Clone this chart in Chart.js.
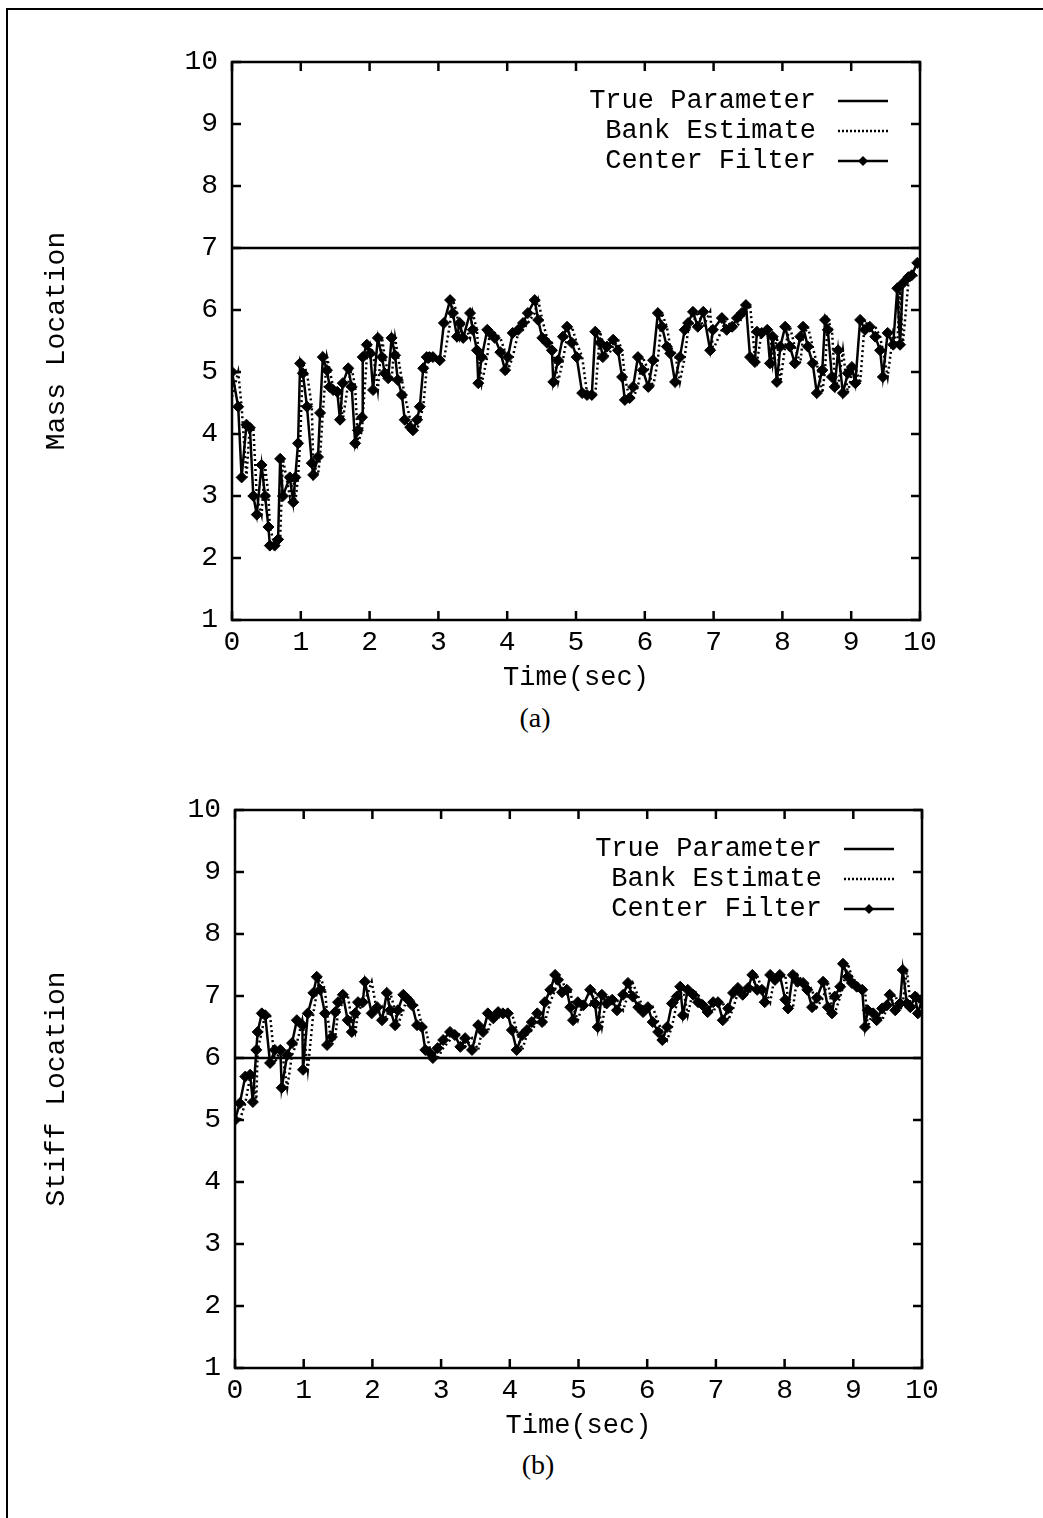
<!DOCTYPE html>
<html>
<head>
<meta charset="utf-8">
<script src="https://cdn.jsdelivr.net/npm/chart.js@4.4.1/dist/chart.umd.min.js"></script>
<style>
  body { margin: 0; background: #fff; width: 1043px; height: 1518px; position: relative; overflow: hidden; }
  .frame { position: absolute; left: 6px; top: 8px; width: 1100px; height: 1600px; border-left: 2px solid #000; border-top: 2px solid #000; }
  .wrap { position: absolute; left: 0; width: 1043px; height: 700px; }
  #wrapA { top: 0; }
  #wrapB { top: 748px; }
  .cap { position: absolute; width: 80px; text-align: center; font-family: "Liberation Serif", serif; font-size: 28px; line-height: 30px; }
</style>
</head>
<body>
<div class="frame"></div>
<div class="wrap" id="wrapA"><canvas id="chartA" width="1043" height="700"></canvas></div>
<div class="cap" style="left:495px; top:703px;">(a)</div>
<div class="wrap" id="wrapB"><canvas id="chartB" width="1043" height="700"></canvas></div>
<div class="cap" style="left:498px; top:1450px;">(b)</div>
<script>
// tick values
const xTicks = [0, 1, 2, 3, 4, 5, 6, 7, 8, 9, 10];
const yTicks = [1, 2, 3, 4, 5, 6, 7, 8, 9, 10];

// (a) mass location
const timeA = [0, 0.09, 0.14, 0.21, 0.26, 0.31, 0.36, 0.43, 0.48, 0.53,
  0.55, 0.62, 0.67, 0.70, 0.74, 0.84, 0.89, 0.92, 0.96, 0.99,
  1.03, 1.09, 1.16, 1.18, 1.25, 1.28, 1.32, 1.38, 1.42, 1.47,
  1.53, 1.57, 1.61, 1.69, 1.74, 1.79, 1.83, 1.89, 1.90, 1.96,
  2.01, 2.05, 2.12, 2.18, 2.22, 2.27, 2.32, 2.37, 2.41, 2.47,
  2.51, 2.59, 2.63, 2.69, 2.73, 2.78, 2.83, 2.87, 2.92, 3.02,
  3.08, 3.17, 3.21, 3.27, 3.31, 3.36, 3.46, 3.50, 3.56, 3.58,
  3.63, 3.71, 3.75, 3.82, 3.90, 3.97, 4.01, 4.08, 4.16, 4.23,
  4.30, 4.40, 4.45, 4.51, 4.58, 4.65, 4.67, 4.74, 4.81, 4.87,
  4.94, 5.01, 5.09, 5.16, 5.23, 5.28, 5.35, 5.39, 5.45, 5.54,
  5.61, 5.67, 5.71, 5.78, 5.83, 5.90, 5.97, 6.05, 6.12, 6.19,
  6.25, 6.32, 6.37, 6.44, 6.51, 6.58, 6.63, 6.70, 6.77, 6.85,
  6.95, 6.99, 7.12, 7.19, 7.27, 7.34, 7.41, 7.47, 7.53, 7.60,
  7.63, 7.70, 7.78, 7.82, 7.86, 7.92, 7.97, 8.04, 8.11, 8.18,
  8.26, 8.30, 8.37, 8.44, 8.50, 8.58, 8.62, 8.66, 8.72, 8.76,
  8.81, 8.88, 8.95, 9.01, 9.06, 9.13, 9.20, 9.27, 9.35, 9.42,
  9.46, 9.53, 9.61, 9.67, 9.71, 9.75, 9.83, 9.88, 9.96];
const centerA = [5.0, 4.44, 3.3, 4.15, 4.1, 3.0, 2.7, 3.5, 3.0, 2.5,
  2.2, 2.2, 2.3, 3.6, 3.0, 3.3, 2.9, 3.3, 3.85, 5.14,
  4.98, 4.44, 3.53, 3.34, 3.63, 4.34, 5.24, 5.03, 4.76, 4.71,
  4.68, 4.23, 4.82, 5.06, 4.76, 3.85, 4.06, 4.27, 5.24, 5.44,
  5.3, 4.71, 5.55, 5.24, 4.98, 4.9, 5.55, 5.27, 4.87, 4.63,
  4.23, 4.11, 4.06, 4.23, 4.44, 5.06, 5.24, 5.24, 5.24, 5.19,
  5.79, 6.16, 5.95, 5.57, 5.79, 5.55, 5.95, 5.68, 5.35, 4.82,
  5.24, 5.68, 5.63, 5.55, 5.32, 5.03, 5.24, 5.63, 5.68, 5.79,
  5.95, 6.16, 5.84, 5.55, 5.47, 5.35, 4.84, 5.19, 5.57, 5.73,
  5.47, 5.24, 4.66, 4.63, 4.63, 5.65, 5.47, 5.24, 5.41, 5.52,
  5.35, 4.92, 4.55, 4.58, 4.76, 5.24, 5.03, 4.76, 5.19, 5.95,
  5.73, 5.41, 5.3, 4.84, 5.24, 5.68, 5.79, 5.97, 5.73, 5.97,
  5.35, 5.68, 5.87, 5.68, 5.73, 5.87, 5.95, 6.08, 5.24, 5.16,
  5.65, 5.63, 5.68, 5.14, 5.57, 4.84, 5.41, 5.73, 5.41, 5.14,
  5.57, 5.73, 5.41, 5.14, 4.66, 5.03, 5.84, 5.68, 4.92, 4.76,
  5.35, 4.66, 4.98, 5.08, 4.82, 5.84, 5.68, 5.73, 5.57, 5.35,
  4.92, 5.63, 5.44, 6.35, 5.44, 6.43, 6.53, 6.56, 6.76];
const bankA = [4.6, 5.0, 4.44, 3.3, 4.15, 4.1, 3.0, 2.7, 3.5, 3.0,
  2.5, 2.2, 2.2, 2.3, 3.6, 3.0, 3.3, 2.9, 3.3, 3.85,
  5.14, 4.98, 4.44, 3.53, 3.34, 3.63, 4.34, 5.24, 5.03, 4.76,
  4.71, 4.68, 4.23, 4.82, 5.06, 4.76, 3.85, 4.06, 4.27, 5.24,
  5.44, 5.3, 4.71, 5.55, 5.24, 4.98, 4.9, 5.55, 5.27, 4.87,
  4.63, 4.23, 4.11, 4.06, 4.23, 4.44, 5.06, 5.24, 5.24, 5.24,
  5.19, 5.79, 6.16, 5.95, 5.57, 5.79, 5.55, 5.95, 5.68, 5.35,
  4.82, 5.24, 5.68, 5.63, 5.55, 5.32, 5.03, 5.24, 5.63, 5.68,
  5.79, 5.95, 6.16, 5.84, 5.55, 5.47, 5.35, 4.84, 5.19, 5.57,
  5.73, 5.47, 5.24, 4.66, 4.63, 4.63, 5.65, 5.47, 5.24, 5.41,
  5.52, 5.35, 4.92, 4.55, 4.58, 4.76, 5.24, 5.03, 4.76, 5.19,
  5.95, 5.73, 5.41, 5.3, 4.84, 5.24, 5.68, 5.79, 5.97, 5.73,
  5.97, 5.35, 5.68, 5.87, 5.68, 5.73, 5.87, 5.95, 6.08, 5.24,
  5.16, 5.65, 5.63, 5.68, 5.14, 5.57, 4.84, 5.41, 5.73, 5.41,
  5.14, 5.57, 5.73, 5.41, 5.14, 4.66, 5.03, 5.84, 5.68, 4.92,
  4.76, 5.35, 4.66, 4.98, 5.08, 4.82, 5.84, 5.68, 5.73, 5.57,
  5.35, 4.92, 5.63, 5.44, 6.35, 5.44, 6.43, 6.53, 6.56];

// (b) stiff location
const timeB = [0, 0.07, 0.15, 0.22, 0.26, 0.31, 0.33, 0.39, 0.44, 0.51,
  0.58, 0.66, 0.68, 0.76, 0.83, 0.90, 0.98, 0.99, 1.06, 1.14,
  1.19, 1.24, 1.31, 1.34, 1.41, 1.46, 1.50, 1.57, 1.64, 1.70,
  1.75, 1.79, 1.86, 1.89, 1.99, 2.07, 2.14, 2.21, 2.26, 2.33,
  2.37, 2.45, 2.52, 2.58, 2.65, 2.72, 2.77, 2.84, 2.88, 2.95,
  3.03, 3.13, 3.20, 3.28, 3.35, 3.45, 3.54, 3.61, 3.68, 3.76,
  3.83, 3.90, 3.97, 4.03, 4.10, 4.18, 4.25, 4.32, 4.40, 4.47,
  4.51, 4.59, 4.66, 4.70, 4.76, 4.83, 4.88, 4.92, 4.99, 5.07,
  5.17, 5.24, 5.28, 5.34, 5.41, 5.49, 5.56, 5.65, 5.72, 5.79,
  5.87, 5.94, 6.01, 6.08, 6.16, 6.22, 6.29, 6.36, 6.43, 6.48,
  6.52, 6.59, 6.67, 6.74, 6.81, 6.88, 6.96, 7.03, 7.10, 7.18,
  7.25, 7.32, 7.39, 7.47, 7.53, 7.60, 7.67, 7.71, 7.79, 7.86,
  7.93, 8.01, 8.05, 8.12, 8.19, 8.27, 8.33, 8.40, 8.47, 8.56,
  8.63, 8.69, 8.73, 8.81, 8.85, 8.92, 8.98, 9.05, 9.13, 9.17,
  9.21, 9.29, 9.34, 9.42, 9.49, 9.53, 9.61, 9.68, 9.72, 9.78,
  9.83, 9.90, 9.94, 10.0];
const centerB = [5.0, 5.27, 5.7, 5.73, 5.29, 6.13, 6.42, 6.72, 6.69, 5.92,
  6.13, 6.13, 5.52, 6.05, 6.24, 6.61, 6.53, 5.81, 6.72, 7.05,
  7.31, 7.1, 6.72, 6.21, 6.34, 6.74, 6.9, 7.02, 6.61, 6.42,
  6.72, 6.9, 6.9, 7.23, 6.72, 6.82, 6.61, 7.05, 6.77, 6.53,
  6.77, 7.02, 6.94, 6.85, 6.53, 6.5, 6.13, 6.08, 6.0, 6.16,
  6.29, 6.42, 6.37, 6.18, 6.32, 6.13, 6.53, 6.42, 6.72, 6.64,
  6.74, 6.72, 6.72, 6.45, 6.13, 6.37, 6.45, 6.58, 6.72, 6.58,
  6.9, 7.1, 7.34, 7.26, 7.06, 7.1, 6.82, 6.61, 6.9, 6.85,
  7.1, 6.88, 6.5, 7.02, 6.88, 6.94, 6.77, 7.02, 7.21, 6.99,
  6.82, 6.74, 6.82, 6.58, 6.42, 6.29, 6.5, 6.88, 6.99, 7.15,
  6.69, 7.1, 7.02, 6.9, 6.85, 6.74, 6.9, 6.9, 6.61, 6.8,
  7.05, 7.13, 7.02, 7.13, 7.34, 7.1, 7.1, 6.9, 7.34, 7.26,
  7.34, 6.94, 6.8, 7.34, 7.23, 7.21, 7.1, 6.82, 6.97, 7.23,
  6.82, 6.72, 6.99, 7.15, 7.52, 7.31, 7.21, 7.15, 7.1, 6.5,
  6.77, 6.72, 6.61, 6.8, 6.85, 7.02, 6.77, 6.88, 7.42, 6.88,
  6.82, 6.99, 6.72, 6.94];
const bankB = [5.0, 5.0, 5.27, 5.7, 5.73, 5.29, 6.13, 6.42, 6.72, 6.69,
  5.92, 6.13, 6.13, 5.52, 6.05, 6.24, 6.61, 6.53, 5.81, 6.72,
  7.05, 7.31, 7.1, 6.72, 6.21, 6.34, 6.74, 6.9, 7.02, 6.61,
  6.42, 6.72, 6.9, 6.9, 7.23, 6.72, 6.82, 6.61, 7.05, 6.77,
  6.53, 6.77, 7.02, 6.94, 6.85, 6.53, 6.5, 6.13, 6.08, 6.0,
  6.16, 6.29, 6.42, 6.37, 6.18, 6.32, 6.13, 6.53, 6.42, 6.72,
  6.64, 6.74, 6.72, 6.72, 6.45, 6.13, 6.37, 6.45, 6.58, 6.72,
  6.58, 6.9, 7.1, 7.34, 7.26, 7.06, 7.1, 6.82, 6.61, 6.9,
  6.85, 7.1, 6.88, 6.5, 7.02, 6.88, 6.94, 6.77, 7.02, 7.21,
  6.99, 6.82, 6.74, 6.82, 6.58, 6.42, 6.29, 6.5, 6.88, 6.99,
  7.15, 6.69, 7.1, 7.02, 6.9, 6.85, 6.74, 6.9, 6.9, 6.61,
  6.8, 7.05, 7.13, 7.02, 7.13, 7.34, 7.1, 7.1, 6.9, 7.34,
  7.26, 7.34, 6.94, 6.8, 7.34, 7.23, 7.21, 7.1, 6.82, 6.97,
  7.23, 6.82, 6.72, 6.99, 7.15, 7.52, 7.31, 7.21, 7.15, 7.1,
  6.5, 6.77, 6.72, 6.61, 6.8, 6.85, 7.02, 6.77, 6.88, 7.42,
  6.88, 6.82, 6.99, 6.72];

// true parameter lines
const truthTimes = [0, 10];
const truthA = [7, 7];
const truthB = [6, 6];

const legendLabels = ["True Parameter", "Bank Estimate", "Center Filter"];

const MONO = '"Liberation Mono", "DejaVu Sans Mono", monospace';

function toPoints(xs, ys) {
    const n = Math.min(xs.length, ys.length);
    const pts = [];
    for (let i = 0; i < n; i++) pts.push({ x: xs[i], y: ys[i] });
    return pts;
}

// gnuplot style box, inward ticks and legend
const gnuplotPlugin = {
    id: "gnuplotBox",
    afterDraw(chart, args, opts) {
        const { ctx, chartArea: a, scales } = chart;
        const x = scales.x, y = scales.y;
        ctx.save();
        ctx.strokeStyle = "#000";
        ctx.lineWidth = 2.5;
        ctx.setLineDash([]);
        ctx.strokeRect(a.left, a.top, a.right - a.left, a.bottom - a.top);
        ctx.beginPath();
        x.ticks.forEach(t => {
            const px = x.getPixelForValue(t.value);
            ctx.moveTo(px, a.bottom); ctx.lineTo(px, a.bottom - 9);
            ctx.moveTo(px, a.top); ctx.lineTo(px, a.top + 9);
        });
        y.ticks.forEach(t => {
            const py = y.getPixelForValue(t.value);
            ctx.moveTo(a.left, py); ctx.lineTo(a.left + 9, py);
            ctx.moveTo(a.right, py); ctx.lineTo(a.right - 9, py);
        });
        ctx.stroke();

        // legend
        ctx.font = "27px " + MONO;
        ctx.fillStyle = "#000";
        ctx.textAlign = "right";
        ctx.textBaseline = "middle";
        const tx = opts.textRight;
        const s0 = tx + 22, s1 = tx + 72;
        legendLabels.forEach((lab, i) => {
            const ly = a.top + 39 + i * 30;
            ctx.fillText(lab, tx, ly);
            ctx.beginPath();
            ctx.lineWidth = 2.5;
            ctx.setLineDash(i === 1 ? [2, 2] : []);
            ctx.moveTo(s0, ly); ctx.lineTo(s1, ly);
            ctx.stroke();
            if (i === 2) {
                const cx = (s0 + s1) / 2;
                ctx.setLineDash([]);
                ctx.beginPath();
                ctx.moveTo(cx, ly - 5); ctx.lineTo(cx + 5, ly);
                ctx.lineTo(cx, ly + 5); ctx.lineTo(cx - 5, ly);
                ctx.closePath();
                ctx.fill();
            }
        });
        ctx.restore();
    }
};

function makeChart(canvasId, times, center, bank, truth, yTitle, left, right, textRight) {
    const ctx = document.getElementById(canvasId).getContext("2d");
    return new Chart(ctx, {
        type: "line",
        data: {
            datasets: [
                {
                    label: "Center Filter",
                    data: toPoints(times, center),
                    borderColor: "#000",
                    backgroundColor: "#000",
                    borderWidth: 2.5,
                    pointStyle: "rectRot",
                    pointRadius: 5.5,
                    pointBackgroundColor: "#000",
                    pointBorderColor: "#000",
                    pointBorderWidth: 1,
                    tension: 0,
                    order: 1
                },
                {
                    label: "Bank Estimate",
                    data: toPoints(times, bank),
                    borderColor: "#000",
                    borderWidth: 2.5,
                    borderDash: [2, 3],
                    pointRadius: 0,
                    tension: 0,
                    order: 2
                },
                {
                    label: "True Parameter",
                    data: toPoints(truthTimes, truth),
                    borderColor: "#000",
                    borderWidth: 2.5,
                    pointRadius: 0,
                    order: 3
                }
            ]
        },
        options: {
            responsive: false,
            animation: false,
            events: [],
            layout: {
                padding: { left: 40, top: 62, right: 1043 - right, bottom: 0 }
            },
            scales: {
                x: {
                    type: "linear",
                    min: 0,
                    max: 10,
                    afterBuildTicks: scale => { scale.ticks = xTicks.map(v => ({ value: v })); },
                    afterFit: scale => { scale.height = 80; },
                    ticks: {
                        color: "#000",
                        font: { family: MONO, size: 28 },
                        padding: 6,
                        maxRotation: 0
                    },
                    grid: { display: false, drawTicks: false },
                    border: { display: false },
                    title: {
                        display: true,
                        text: "Time(sec)",
                        color: "#000",
                        font: { family: MONO, size: 27 },
                        padding: { top: 0, bottom: 6 }
                    }
                },
                y: {
                    type: "linear",
                    min: 1,
                    max: 10,
                    afterBuildTicks: scale => { scale.ticks = yTicks.map(v => ({ value: v })); },
                    afterFit: scale => { scale.width = left - 40; },
                    ticks: {
                        color: "#000",
                        font: { family: MONO, size: 28 },
                        padding: 14
                    },
                    grid: { display: false, drawTicks: false },
                    border: { display: false },
                    title: {
                        display: true,
                        text: yTitle,
                        color: "#000",
                        font: { family: MONO, size: 28 },
                        padding: { top: 0, bottom: 0 }
                    }
                }
            },
            plugins: {
                legend: { display: false },
                tooltip: { enabled: false },
                gnuplotBox: { textRight: textRight }
            }
        },
        plugins: [gnuplotPlugin]
    });
}

makeChart("chartA", timeA, centerA, bankA, truthA, "Mass Location", 232, 920, 816);
makeChart("chartB", timeB, centerB, bankB, truthB, "Stiff Location", 235, 922, 822);
</script>
</body>
</html>
